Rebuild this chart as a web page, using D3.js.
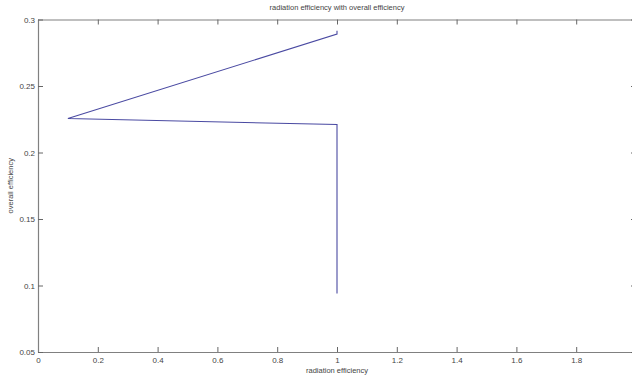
<!DOCTYPE html>
<html>
<head>
<meta charset="utf-8">
<script src="https://cdn.jsdelivr.net/npm/d3@7"></script>
<style>
  body { margin: 0; background: #fff; }
  text { font-family: "Liberation Sans", Arial, sans-serif; fill: #444; }
</style>
</head>
<body>
<svg id="chart" width="632" height="379"></svg>
<script>
// data
let radiationEff = [1, 1, 0.1, 1, 1]
let overallEff = [0.094, 0.221, 0.2256, 0.289, 0.2915]
let xTicks = [0, 0.2, 0.4, 0.6, 0.8, 1, 1.2, 1.4, 1.6, 1.8]
let yTicks = [0.05, 0.1, 0.15, 0.2, 0.25, 0.3]

let svg = d3.select("#chart")

// plot box (right edge runs just past the window, like the source)
let boxLeft = 38, boxRight = 636, boxTop = 19.5, boxBottom = 352

let x = d3.scaleLinear().domain([0, 2]).range([boxLeft, boxRight])
let y = d3.scaleLinear().domain([0.05, 0.3]).range([boxBottom, boxTop])

let fmt = d => d3.format("")(+d.toFixed(2))
let axisColor = "#808080"

function styleAxis(g) {
    g.selectAll("path").attr("stroke", axisColor).attr("stroke-width", 1.2)
    g.selectAll("line").attr("stroke", "#666").attr("stroke-width", 1)
    g.selectAll("text").attr("font-size", 8).attr("fill", "#444")
}

// bottom axis, ticks inward
svg.append("g")
    .attr("transform", `translate(0,${boxBottom})`)
    .call(d3.axisBottom(x).tickValues(xTicks).tickSize(-5).tickPadding(4).tickFormat(fmt).tickSizeOuter(0))
    .call(styleAxis)
    .call(g => g.selectAll("text").attr("dy", "0.9em"))

// top axis, no labels
svg.append("g")
    .attr("transform", `translate(0,${boxTop})`)
    .call(d3.axisTop(x).tickValues(xTicks).tickSize(-5).tickFormat("").tickSizeOuter(0))
    .call(styleAxis)

// left axis
svg.append("g")
    .attr("transform", `translate(${boxLeft},0)`)
    .call(d3.axisLeft(y).tickValues(yTicks).tickSize(-5).tickPadding(3).tickFormat(fmt).tickSizeOuter(0))
    .call(styleAxis)

// right axis
svg.append("g")
    .attr("transform", `translate(${boxRight},0)`)
    .call(d3.axisRight(y).tickValues(yTicks).tickSize(-5).tickFormat("").tickSizeOuter(0))
    .call(styleAxis)

// the line
let pts = radiationEff.map((d, i) => [d, overallEff[i]])
svg.append("path")
    .datum(pts)
    .attr("fill", "none")
    .attr("stroke", "#4a4aa2")
    .attr("stroke-width", 1.1)
    .attr("d", d3.line().x(d => x(d[0])).y(d => y(d[1])))

// title and labels
let midX = (boxLeft + boxRight) / 2
svg.append("text")
    .attr("x", midX).attr("y", 10)
    .attr("text-anchor", "middle")
    .attr("font-size", 7.5)
    .text("radiation efficiency with overall efficiency")

svg.append("text")
    .attr("x", midX).attr("y", 373)
    .attr("text-anchor", "middle")
    .attr("font-size", 7.5)
    .text("radiation efficiency")

svg.append("text")
    .attr("transform", `translate(13,${(boxTop + boxBottom) / 2}) rotate(-90)`)
    .attr("text-anchor", "middle")
    .attr("font-size", 7.5)
    .text("overall efficiency")
</script>
</body>
</html>
